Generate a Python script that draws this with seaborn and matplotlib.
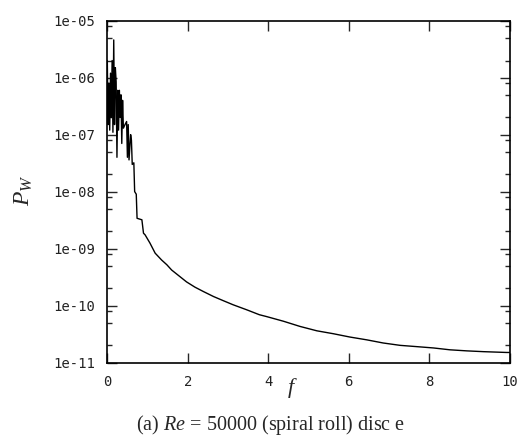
import numpy as np
import pandas as pd
import matplotlib
matplotlib.use("Agg")
import matplotlib.pyplot as plt
import seaborn as sns
from matplotlib.ticker import LogLocator, FixedLocator, NullFormatter

# ---- data ----
freq = [0.00, 0.02, 0.04, 0.06, 0.08, 0.10, 0.12, 0.14, 0.16, 0.18,
        0.20, 0.22, 0.24, 0.26, 0.28, 0.30, 0.32, 0.34, 0.36, 0.38,
        0.40, 0.44, 0.48, 0.50, 0.52, 0.54, 0.58, 0.60, 0.62, 0.66,
        0.68, 0.72, 0.74, 0.86, 0.90, 0.94, 1.06, 1.19, 1.35, 1.48,
        1.60, 1.81, 1.97, 2.18, 2.39, 2.64, 2.88, 3.13, 3.47, 3.78,
        3.96, 4.38, 4.79, 5.21, 5.62, 6.03, 6.45, 6.86, 7.28, 7.69,
        8.11, 8.52, 8.94, 9.35, 9.93, 10.0]
power = [2.0e-6, 1.5e-7, 8.0e-7, 1.2e-7, 1.2e-6, 2.0e-7, 2.0e-6, 1.1e-7, 4.6e-6, 1.5e-7,
         1.5e-6, 8.4e-7, 4.0e-8, 6.0e-7, 1.2e-7, 6.0e-7, 2.0e-7, 5.0e-7, 7.0e-8, 4.0e-7,
         1.3e-7, 1.5e-7, 1.7e-7, 4.0e-8, 1.5e-7, 3.6e-8, 1.0e-7, 8.0e-8, 3.0e-8, 3.2e-8,
         1.0e-8, 9.0e-9, 3.4e-9, 3.2e-9, 1.86e-9, 1.74e-9, 1.25e-9, 8.3e-10, 6.3e-10, 5.2e-10,
         4.2e-10, 3.2e-10, 2.6e-10, 2.1e-10, 1.76e-10, 1.44e-10, 1.22e-10, 1.03e-10, 8.4e-11, 6.9e-11,
         6.4e-11, 5.3e-11, 4.3e-11, 3.6e-11, 3.2e-11, 2.8e-11, 2.5e-11, 2.2e-11, 2.0e-11, 1.9e-11,
         1.8e-11, 1.67e-11, 1.6e-11, 1.55e-11, 1.5e-11, 1.5e-11]
x_ticks = [0, 2, 4, 6, 8, 10]
y_ticks = [1e-11, 1e-10, 1e-9, 1e-8, 1e-7, 1e-6, 1e-5]
y_tick_labels = ["1e-11", "1e-10", "1e-09", "1e-08", "1e-07", "1e-06", "1e-05"]
caption = "(a) $Re$ = 50000 (spiral roll) disc e"

df = pd.DataFrame({"f": freq, "P": power})

sns.set_style("ticks")
plt.rcParams["mathtext.fontset"] = "custom"
plt.rcParams["mathtext.rm"] = "Liberation Serif"
plt.rcParams["mathtext.it"] = "Liberation Serif:italic"

W, H = 528, 443
fig = plt.figure(figsize=(W / 100, H / 100), dpi=100)
fig.patch.set_facecolor("white")
ax = fig.add_axes([107.3 / W, 1 - 362.5 / H, (509.5 - 107.3) / W, (362.5 - 20.7) / H])

sns.lineplot(data=df, x="f", y="P", ax=ax, color="black", linewidth=1.0,
             estimator=None, sort=False)
ax.set_yscale("log")
ax.set_xlim(0, 10)
ax.set_ylim(1e-11, 1e-5)
ax.set_xlabel("")
ax.set_ylabel("")

ax.xaxis.set_major_locator(FixedLocator(x_ticks))
ax.set_xticklabels([str(t) for t in x_ticks])
ax.yaxis.set_major_locator(FixedLocator(y_ticks))
ax.set_yticklabels(y_tick_labels)
ax.yaxis.set_minor_locator(LogLocator(base=10, subs=[2, 5, 8], numticks=20))
ax.yaxis.set_minor_formatter(NullFormatter())

for lab in ax.get_xticklabels() + ax.get_yticklabels():
    lab.set_family("DejaVu Sans Mono")
    lab.set_fontsize(10)
    lab.set_color("#222222")

ax.tick_params(axis="both", which="major", direction="in", length=7, width=1.0,
               top=True, right=True, pad=9)
ax.tick_params(axis="y", which="minor", direction="in", length=3.5, width=1.0,
               left=True, right=True)
for sp in ax.spines.values():
    sp.set_visible(True)
    sp.set_linewidth(1.2)
    sp.set_color("black")

fig.text(24 / W, 1 - 190 / H, "$P_W$", rotation=90, ha="center", va="center",
         fontsize=17, family="Liberation Serif")
fig.text(292 / W, 1 - 388 / H, "$f$", ha="center", va="center",
         fontsize=16, family="Liberation Serif")
fig.text(271 / W, 1 - 425 / H, caption, ha="center", va="center",
         fontsize=14.5, family="Liberation Serif")

fig.savefig("out.png", dpi=100)
